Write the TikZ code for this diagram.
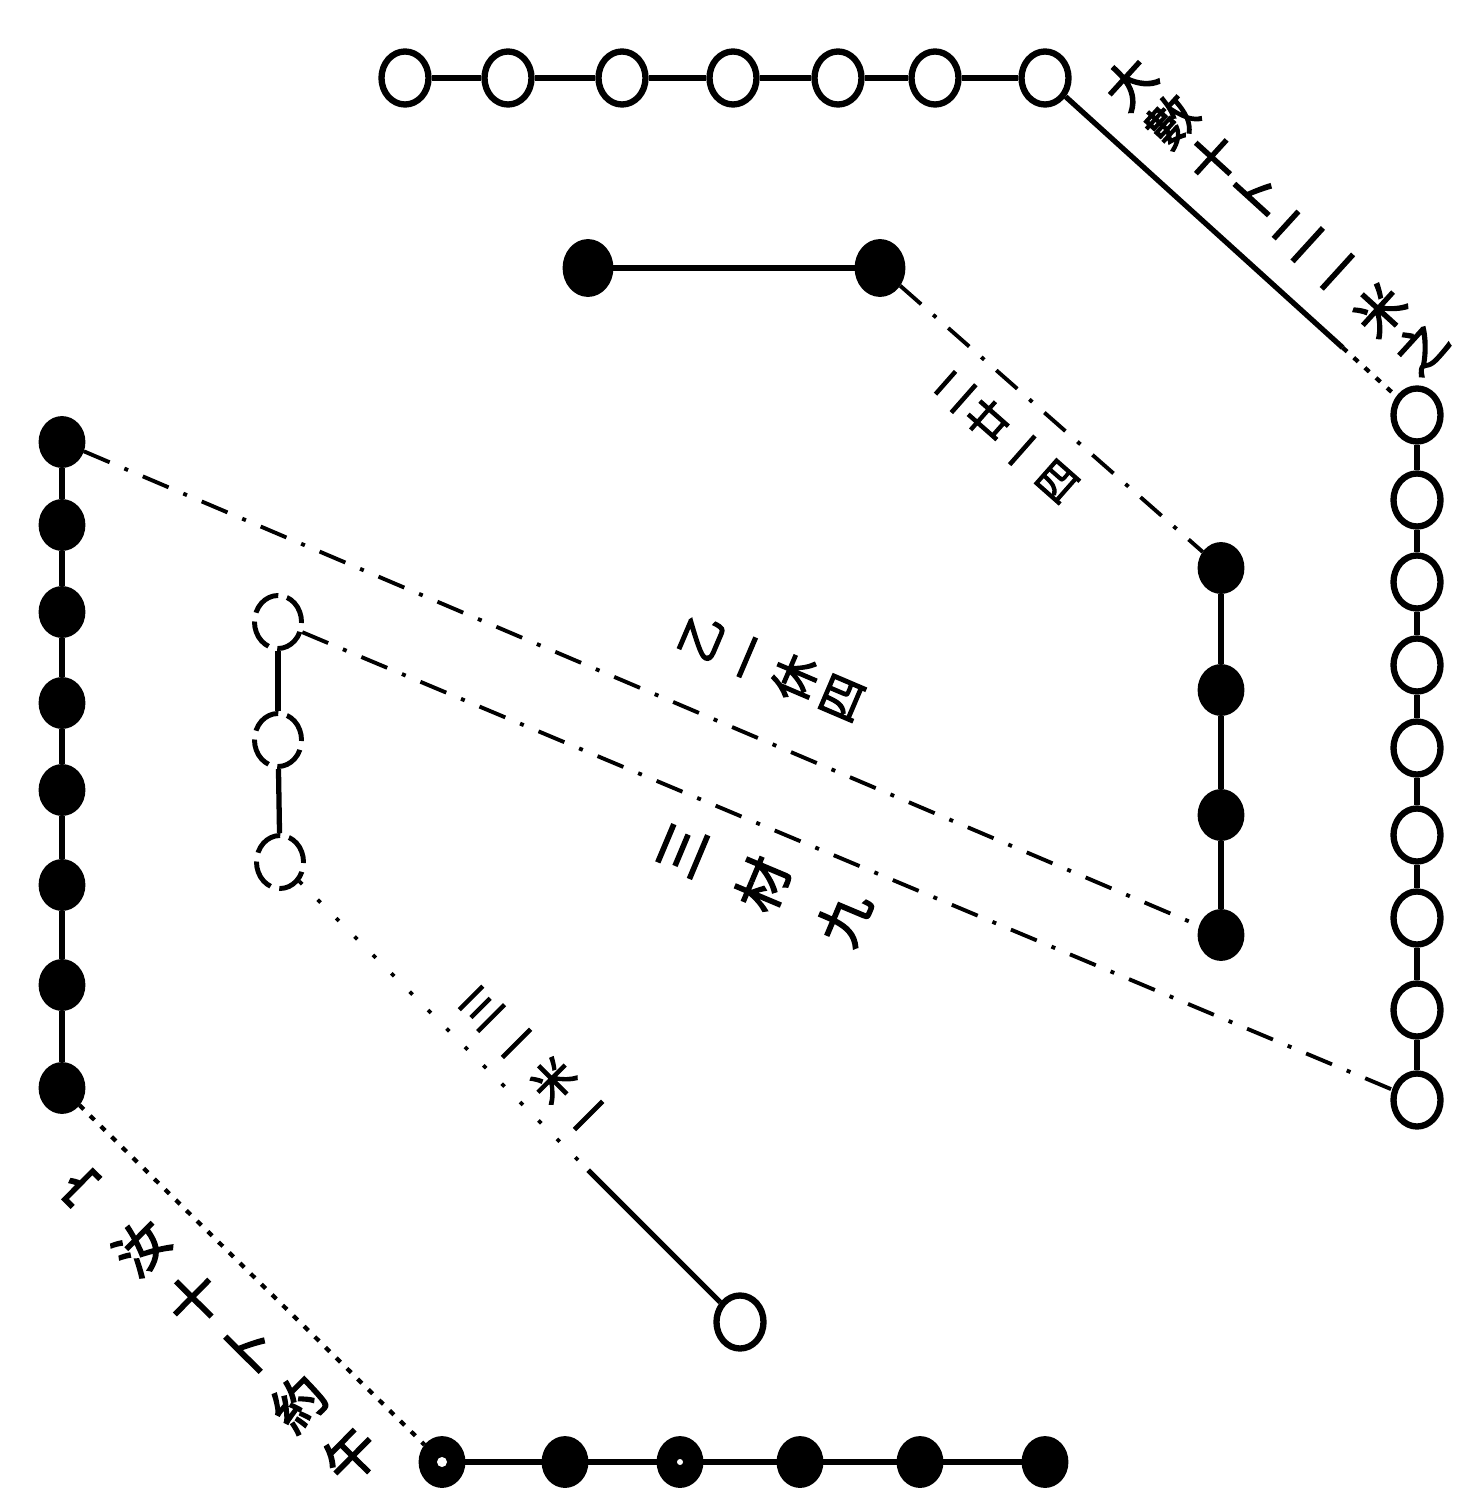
\documentclass[tikz,border=0pt]{standalone}
\usepackage{fontspec}
\newfontfamily\cjk{Noto Sans CJK SC}[FakeBold=3]
\usetikzlibrary{shapes.geometric,calc}
\begin{document}
\begin{tikzpicture}[x=0.01cm,y=-0.01cm,
  wc/.style={ellipse,draw,line width=1.8pt,minimum width=0.47cm,minimum height=0.53cm,inner sep=0pt,fill=white},
  bc/.style={ellipse,fill=black,draw,line width=0.8pt,minimum width=0.44cm,minimum height=0.49cm,inner sep=0pt},
  bigbc/.style={bc,minimum width=0.48cm,minimum height=0.55cm},
  dc/.style={wc,line width=1.4pt,dash pattern=on 0.3cm off 0.09cm},
  link/.style={line width=1.5pt},
  dashlink/.style={line width=1.1pt,dash pattern=on 0.28cm off 0.16cm on 0.04cm off 0.16cm},
  dotlink/.style={line width=1.2pt,dash pattern=on 0.06cm off 0.09cm},
  sparse/.style={line width=1.1pt,dash pattern=on 0.04cm off 0.22cm},
  lab/.style={align=center,inner sep=0pt}
]
\useasboundingbox (0,0) rectangle (1462,1497);

% top row: seven white circles
\foreach \x [count=\i] in {405,508,622,733,838,935,1045}
  \node[wc] (t\i) at (\x,78) {};
% right column: nine white circles
\foreach \y [count=\i] in {415,500,582,665,748,835,918,1010,1100}
  \node[wc] (r\i) at (1417,\y) {};
% black pair
\node[bigbc] (p1) at (588,268) {};
\node[bigbc] (p2) at (880,268) {};
% inner right: four black
\foreach \y [count=\i] in {568,690,815,935}
  \node[bc] (q\i) at (1221,\y) {};
% left column: eight black
\foreach \y [count=\i] in {442,525,612,703,790,885,985,1088}
  \node[bc] (l\i) at (62,\y) {};
% inner left: three white (broken)
\node[dc] (w1) at (278,622) {};
\node[dc] (w2) at (278,740) {};
\node[dc] (w3) at (280,862) {};
% single white
\node[wc] (s) at (740,1322) {};
% bottom row: six black
\foreach \x [count=\i] in {442,565,680,800,920,1045}
  \node[bc] (b\i) at (\x,1462) {};
\fill[white] (b1) circle (0.05cm);
\fill[white] (b3) circle (0.03cm);

% chains
\foreach \i/\j in {1/2,2/3,3/4,4/5,5/6,6/7} \draw[link] (t\i) -- (t\j);
\foreach \i/\j in {1/2,2/3,3/4,4/5,5/6,6/7,7/8,8/9} \draw[link] (r\i) -- (r\j);
\draw[link] (p1) -- (p2);
\foreach \i/\j in {1/2,2/3,3/4} \draw[link] (q\i) -- (q\j);
\foreach \i/\j in {1/2,2/3,3/4,4/5,5/6,6/7,7/8} \draw[link] (l\i) -- (l\j);
\draw[link] (w1) -- (w2);
\draw[link] (w2) -- (w3);
\foreach \i/\j in {1/2,2/3,3/4,4/5,5/6} \draw[link] (b\i) -- (b\j);

% connectors between groups
\coordinate (m1) at ($(t7)!0.8!(r1)$);
\draw[link] (t7) -- (m1);
\draw[dotlink] (m1) -- (r1);
\draw[dashlink] (p2) -- (q1);
\draw[dashlink] (l1) -- (q4);
\draw[dashlink] (w1) -- (r9);
\coordinate (m5) at ($(w3)!0.67!(s)$);
\draw[sparse] (w3) -- (m5);
\draw[link] (m5) -- (s);
\draw[dotlink] (l8) -- (b1);

% labels (vertical text laid along the lines)
\node[lab,rotate=47.7,font=\cjk\fontsize{14pt}{16pt}\selectfont] (a1) at (1275,215) {大\\數\\十\\卜\\二\\一\\米\\之};
\node[lab,rotate=48.6,font=\cjk\fontsize{11.5pt}{13pt}\selectfont] (a2) at (1007,437) {二\\廿\\一\\四};
\node[lab,rotate=66.9,font=\cjk\fontsize{13pt}{14.5pt}\selectfont] (a3) at (772,668) {乙\\一\\休\\四};
\node[lab,rotate=67.2,font=\cjk\fontsize{15pt}{25pt}\selectfont] (a4) at (765,885) {三\\材\\九};
\node[lab,rotate=45,font=\cjk\fontsize{12pt}{14.5pt}\selectfont] (a5) at (535,1062) {三\\一\\米\\一};
\node[lab,rotate=45.3,font=\cjk\fontsize{15pt}{21pt}\selectfont] (a6) at (220,1325) {宀\\汝\\十\\卜\\約\\午};
\end{tikzpicture}
\end{document}
